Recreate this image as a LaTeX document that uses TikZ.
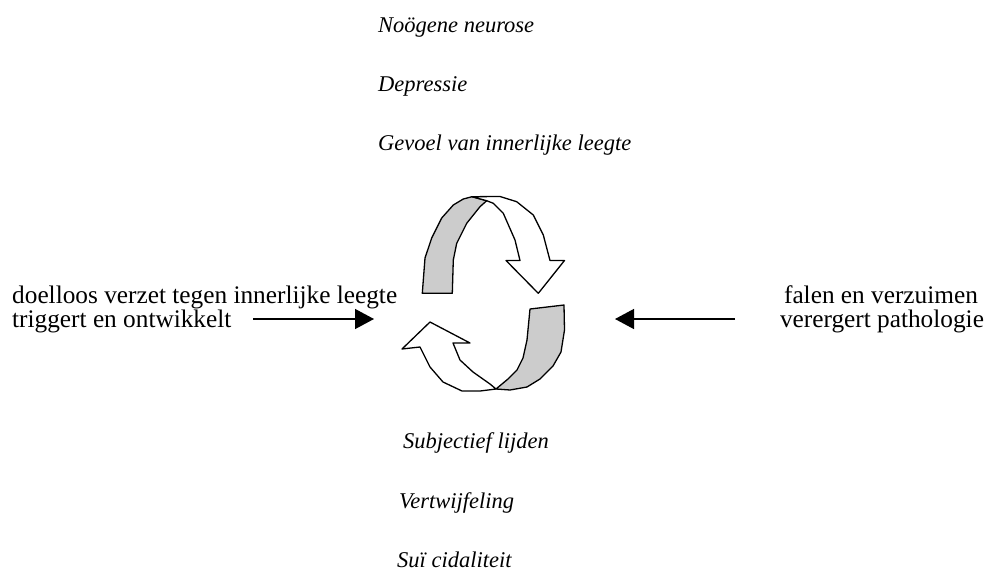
\documentclass[tikz,border=0pt]{standalone}
\usepackage{fontspec}
\setmainfont{Liberation Serif}
\usetikzlibrary{arrows.meta}
\begin{document}
\begin{tikzpicture}[x=1pt,y=-1pt,
  lab/.style={anchor=base west, inner sep=0pt, font=\fontsize{22.5}{26}\selectfont\itshape},
  side/.style={inner sep=0pt, font=\fontsize{25.3}{27}\selectfont},
  conn/.style={line width=1.4pt, -{Triangle[length=19pt,width=20pt]}},
  ribbon/.style={draw=black, line width=1.3pt, line join=round},
  back/.style={ribbon, fill=black!20},
  front/.style={ribbon, fill=white}]
\path[use as bounding box] (0,0) rectangle (994,574);
% italic labels
\node[lab] (t1) at (378,32) {Noögene neurose};
\node[lab] (t2) at (378,91) {Depressie};
\node[lab] (t3) at (378,150) {Gevoel van innerlijke leegte};
\node[lab] (b1) at (403,448) {Subjectief lijden};
\node[lab] (b2) at (399,508) {Vertwijfeling};
\node[lab] (b3) at (397,567) {Suï cidaliteit};
% side texts
\node[side, anchor=base west] (l1) at (12,303) {doelloos verzet tegen innerlijke leegte};
\node[side, anchor=base west] (l2) at (12,327) {triggert en ontwikkelt};
\node[side, anchor=base] (r1) at (881,303) {falen en verzuimen};
\node[side, anchor=base] (r2) at (882,327) {verergert pathologie};
% cycle ribbon
\draw[back] (422.3,293.3) -- (425,258) -- (431.7,238) -- (441.7,218) -- (453.3,205) -- (463.3,199) -- (472,196.7) -- (486.7,200.7) -- (480,206.7) -- (466.7,223.3) -- (456.7,243.3) -- (453.3,260) -- (452.3,293.3) -- cycle;
\draw[front] (472,196.7) -- (500,196.5) -- (516.7,201.7) -- (533.3,215) -- (543.3,235) -- (550,260.5) -- (564.5,260.5) -- (538.3,293.3) -- (506,260.5) -- (520,260.5) -- (515,240) -- (503.3,213.3) -- (493.3,203.3) -- (486.7,200.7) -- cycle;
\draw[back] (530,309) -- (564,305) -- (564.5,330) -- (561,352) -- (553,366) -- (540,379) -- (527,387) -- (510,390) -- (496,389) -- (508,379) -- (517,370) -- (523,358) -- (527,340) -- cycle;
\draw[front] (496,389) -- (480,391) -- (462,391) -- (443,382) -- (430,367) -- (420,347) -- (402,349) -- (430,322) -- (470,343) -- (453,343) -- (460,360) -- (473,372) -- (490,384) -- cycle;
% connectors
\coordinate (ls) at (253,319);
\coordinate (le) at (374,319);
\coordinate (rs) at (735,319);
\coordinate (re) at (615,319);
\draw[conn] (ls) -- (le);
\draw[conn] (rs) -- (re);
\end{tikzpicture}
\end{document}
